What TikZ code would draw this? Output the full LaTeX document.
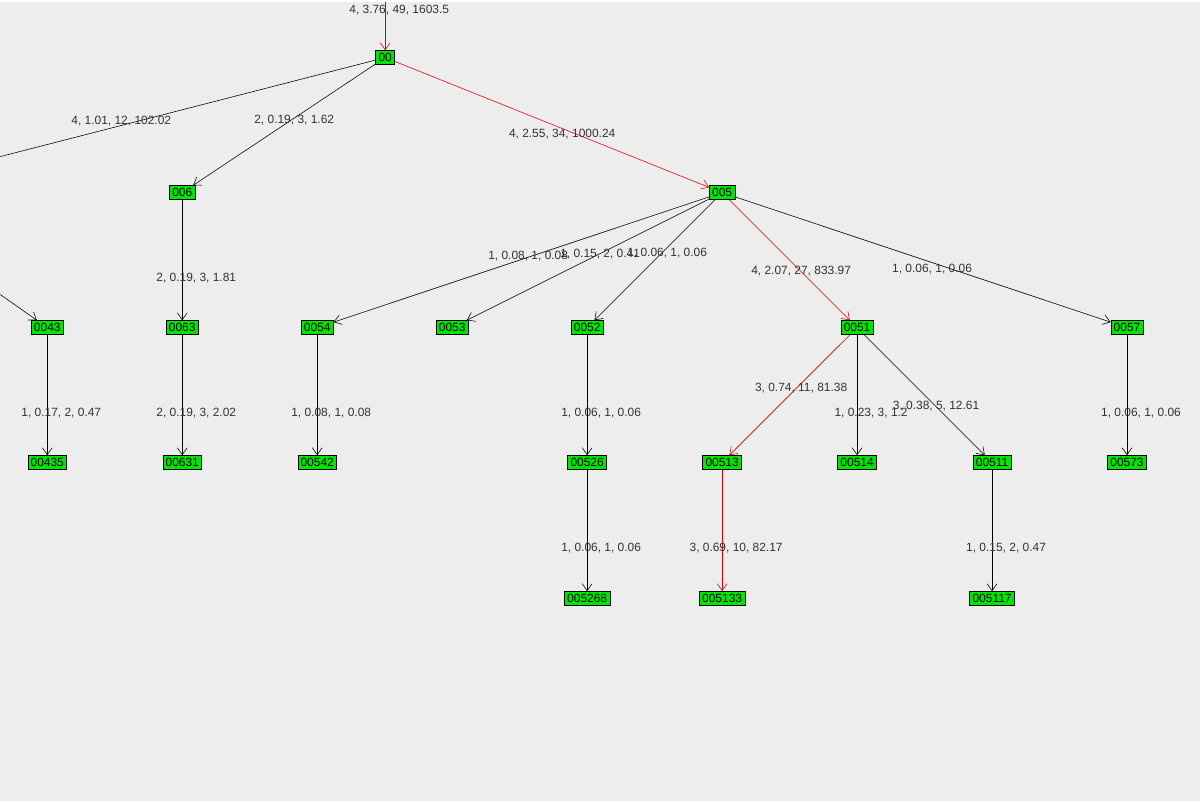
\documentclass[tikz,border=0pt]{standalone}
\usepackage{fontspec}
\setmainfont{Liberation Sans}
\usetikzlibrary{arrows.meta}

\begin{document}
\begin{tikzpicture}[x=0.025cm, y=-0.025cm, every node/.style={font=\fontsize{8.5}{10}\selectfont, text=black!80},
    treenode/.style={draw=black, fill=green!90!black, inner ysep=1pt, inner xsep=2pt, minimum height=0.35cm, text=black},
    edge/.style={-{Straight Barb[length=5pt,width=7pt]}, black},
    hot/.style={edge, red!85!black}]

    % Background and bounds
    \fill[black!7] (0,0) rectangle (1200,800);

    % Define the tree nodes
    \node[treenode] (n00) at (385,56) {00};
    \node[treenode] (n006) at (182,191) {006};
    \node[treenode] (n005) at (722,191) {005};
    \node[treenode] (n0043) at (47,326) {0043};
    \node[treenode] (n0063) at (182,326) {0063};
    \node[treenode] (n0054) at (317,326) {0054};
    \node[treenode] (n0053) at (452,326) {0053};
    \node[treenode] (n0052) at (587,326) {0052};
    \node[treenode] (n0051) at (857,326) {0051};
    \node[treenode] (n0057) at (1127,326) {0057};
    \node[treenode] (n00435) at (47,461) {00435};
    \node[treenode] (n00631) at (182,461) {00631};
    \node[treenode] (n00542) at (317,461) {00542};
    \node[treenode] (n00526) at (587,461) {00526};
    \node[treenode] (n00513) at (722,461) {00513};
    \node[treenode] (n00514) at (857,461) {00514};
    \node[treenode] (n00511) at (992,461) {00511};
    \node[treenode] (n00573) at (1127,461) {00573};
    \node[treenode] (n005268) at (587,597) {005268};
    \node[treenode] (n005133) at (722,597) {005133};
    \node[treenode] (n005117) at (992,597) {005117};

    % Ends that leave the picture
    \coordinate (top) at (385,0);
    \coordinate (left1) at (0,155);
    \coordinate (left2) at (0,293);

    % Draw the edges
    \draw[hot] (top) -- (n00);
    \draw[black] (n00) -- (left1);
    \draw[edge] (n00) -- (n006);
    \draw[hot] (n00) -- (n005);
    \draw[edge] (n006) -- (n0063);
    \draw[edge] (left2) -- (n0043);
    \draw[edge] (n005) -- (n0054);
    \draw[edge] (n005) -- (n0053);
    \draw[edge] (n005) -- (n0052);
    \draw[hot] (n005) -- (n0051);
    \draw[edge] (n005) -- (n0057);
    \draw[edge] (n0043) -- (n00435);
    \draw[edge] (n0063) -- (n00631);
    \draw[edge] (n0054) -- (n00542);
    \draw[edge] (n0052) -- (n00526);
    \draw[hot] (n0051) -- (n00513);
    \draw[edge] (n0051) -- (n00514);
    \draw[edge] (n0051) -- (n00511);
    \draw[edge] (n0057) -- (n00573);
    \draw[edge] (n00526) -- (n005268);
    \draw[hot] (n00513) -- (n005133);
    \draw[edge] (n00511) -- (n005117);

    % Add the edge labels
    \node at (399,8) {4, 3.76, 49, 1603.5};
    \node at (121,120) {4, 1.01, 12, 102.02};
    \node at (294,118) {2, 0.19, 3, 1.62};
    \node at (562,133) {4, 2.55, 34, 1000.24};
    \node at (196,277) {2, 0.19, 3, 1.81};
    \node at (528,255) {1, 0.08, 1, 0.08};
    \node at (600,253) {1, 0.15, 2, 0.41};
    \node at (667,252) {1, 0.06, 1, 0.06};
    \node at (801,270) {4, 2.07, 27, 833.97};
    \node at (932,268) {1, 0.06, 1, 0.06};
    \node at (61,412) {1, 0.17, 2, 0.47};
    \node at (196,412) {2, 0.19, 3, 2.02};
    \node at (331,412) {1, 0.08, 1, 0.08};
    \node at (601,412) {1, 0.06, 1, 0.06};
    \node at (801,387) {3, 0.74, 11, 81.38};
    \node at (871,412) {1, 0.23, 3, 1.2};
    \node at (936,405) {3, 0.38, 5, 12.61};
    \node at (1141,412) {1, 0.06, 1, 0.06};
    \node at (601,547) {1, 0.06, 1, 0.06};
    \node at (736,547) {3, 0.69, 10, 82.17};
    \node at (1006,547) {1, 0.15, 2, 0.47};

\end{tikzpicture}
\end{document}
